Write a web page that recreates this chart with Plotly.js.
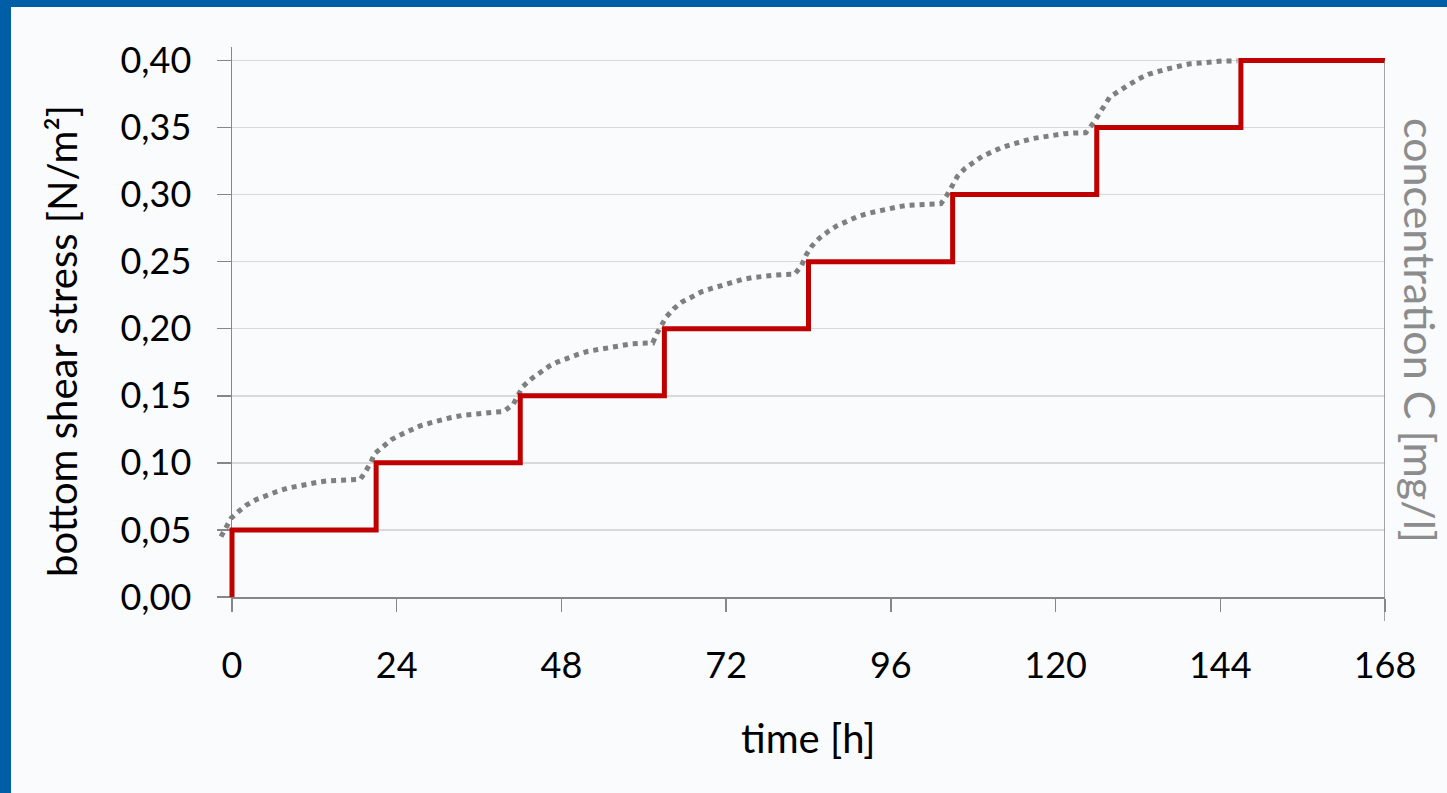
<!DOCTYPE html>
<html>
<head>
<meta charset="utf-8">
<script src="https://cdn.plot.ly/plotly-3.0.1.min.js"></script>
<style>
  html, body { margin: 0; padding: 0; background: #005ea6; width: 1447px; height: 793px; overflow: hidden; }
  #chart { position: absolute; left: 11px; top: 7px; width: 1436px; height: 786px; }
</style>
</head>
<body>
<div id="chart"></div>
<script>
// bottom shear stress steps (time [h], stress [N/m²])
const stepTimes = [0, 0, 21, 42, 63, 84, 105, 126, 147, 168];
const stressValues = [0, 0.05, 0.10, 0.15, 0.20, 0.25, 0.30, 0.35, 0.40, 0.40];

// concentration curve (time [h], value on the same visual scale)
const concTimes = [
  -1.6, -1.0, -0.15, 0.9, 2.1, 3.6, 5.0, 6.5, 8.0, 9.4, 10.9, 12.6, 14.0, 15.7, 17.2, 18.7,
  19.5, 20.2, 20.8, 22.0, 23.3, 24.6, 26.0, 27.4, 28.9, 30.3, 31.8, 33.5, 34.9, 36.6, 38.1, 39.6,
  41.0, 41.7, 42.4, 43.7, 44.9, 46.2, 47.5, 49.0, 50.5, 51.9, 53.5, 55.1, 56.6, 58.2, 59.8, 61.3,
  61.9, 62.6, 63.3, 64.4, 65.6, 67.0, 68.4, 69.9, 71.4, 72.8, 74.3, 75.8, 77.4, 78.9, 80.5, 82.0,
  83.0, 83.7, 84.5, 85.6, 86.9, 88.1, 89.6, 91.0, 92.5, 94.0, 95.5, 96.9, 98.5, 100.1, 101.7, 103.3,
  104.2, 104.9, 105.7, 106.8, 108.0, 109.3, 110.7, 112.1, 113.6, 115.2, 116.6, 118.1, 119.7, 121.3, 122.8, 124.4,
  125.5, 126.2, 127.0, 127.9, 129.4, 130.8, 132.0, 133.5, 135.0, 136.4, 138.1, 139.6, 141.0, 142.5, 144.2, 146.5
];
const concValues = [
  0.045, 0.051, 0.0586, 0.0636, 0.0685, 0.0728, 0.076, 0.0785, 0.081, 0.0827, 0.0842, 0.0857, 0.0866, 0.0871, 0.0874, 0.0877,
  0.094, 0.100, 0.107, 0.112, 0.1175, 0.121, 0.1244, 0.1275, 0.1298, 0.132, 0.1336, 0.1353, 0.1363, 0.1373, 0.1378, 0.1383,
  0.1438, 0.1505, 0.157, 0.163, 0.1675, 0.172, 0.1753, 0.1785, 0.181, 0.1832, 0.1847, 0.1865, 0.1877, 0.1887, 0.1892, 0.1894,
  0.1964, 0.2026, 0.209, 0.215, 0.220, 0.2237, 0.2275, 0.230, 0.2324, 0.2349, 0.2366, 0.2381, 0.2393, 0.2398, 0.2404, 0.2406,
  0.2473, 0.2553, 0.2617, 0.2676, 0.2726, 0.2766, 0.280, 0.2833, 0.2858, 0.2877, 0.2895, 0.2907, 0.292, 0.2927, 0.293, 0.2932,
  0.2997, 0.3062, 0.3136, 0.3195, 0.3243, 0.3285, 0.3317, 0.335, 0.3374, 0.3399, 0.3417, 0.3429, 0.3446, 0.3454, 0.3459, 0.3461,
  0.3533, 0.359, 0.366, 0.3727, 0.3777, 0.3826, 0.386, 0.3896, 0.392, 0.3938, 0.3958, 0.3975, 0.398, 0.399, 0.3995, 0.3997
];

const xTicks = [0, 24, 48, 72, 96, 120, 144, 168];
const yTicks = [0, 0.05, 0.10, 0.15, 0.20, 0.25, 0.30, 0.35, 0.40];
const xTitle = 'time [h]';
const yTitle = 'bottom shear stress [N/m²]';
const y2Title = 'concentration C [mg/l]';

// geometry helpers (pixels)
const W = 1436, H = 786;
const mL = 206, mR = 57, mT = 40, mB = 196;
const plotW = W - mL - mR;           // 1173
const plotH = H - mT - mB;           // 550
const padL = 15, padR = 5;           // extra room for curves outside the axis frame
const xMin = 0, xMax = 168, yMax = 0.41;
const pxPerH = (plotW - padL - padR) / (xMax - xMin);

const font = 'Lato, "Open Sans", sans-serif';
const axisGrey = '#878787';

const traces = [
  {
    x: concTimes, y: concValues, xaxis: 'x2', yaxis: 'y2',
    type: 'scatter', mode: 'lines',
    line: { color: '#7f7f7f', width: 5, dash: '5px,5px' },
    hoverinfo: 'skip', showlegend: false
  },
  {
    x: stepTimes, y: stressValues, xaxis: 'x2', yaxis: 'y2',
    type: 'scatter', mode: 'lines',
    line: { color: '#c00000', width: 5, shape: 'hv' },
    hoverinfo: 'skip', showlegend: false
  }
];

const layout = {
  width: W, height: H,
  margin: { l: mL, r: mR, t: mT, b: mB, pad: 0 },
  paper_bgcolor: '#f9fbfd',
  plot_bgcolor: 'rgba(0,0,0,0)',
  separators: ',.',
  showlegend: false,
  font: { family: font, size: 36, color: '#000000' },
  xaxis: {
    domain: [padL / plotW, 1 - padR / plotW],
    range: [xMin, xMax],
    tickvals: xTicks,
    ticktext: xTicks.map(String),
    ticks: 'outside', ticklen: 13, tickwidth: 1.5, tickcolor: axisGrey,
    showline: true, linecolor: axisGrey, linewidth: 1.5,
    showgrid: false, zeroline: false,
    ticklabelstandoff: 23,
    tickfont: { family: font, size: 36, color: '#000' },
    anchor: 'y', fixedrange: true
  },
  yaxis: {
    domain: [0, 1],
    range: [0, yMax],
    tickvals: yTicks,
    tickformat: '.2f',
    ticks: 'outside', ticklen: 14, tickwidth: 1.5, tickcolor: axisGrey,
    showline: true, linecolor: axisGrey, linewidth: 1.5,
    showgrid: true, gridcolor: '#d9d9d9', gridwidth: 1.5,
    zeroline: false,
    ticklabelstandoff: 18,
    tickfont: { family: font, size: 36, color: '#000' },
    anchor: 'x', fixedrange: true
  },
  xaxis2: {
    domain: [0, 1],
    range: [xMin - padL / pxPerH, xMax + padR / pxPerH],
    visible: false, anchor: 'y2', fixedrange: true
  },
  yaxis2: {
    domain: [0, 1],
    range: [0, yMax],
    visible: false, anchor: 'x2', fixedrange: true
  },
  shapes: [
    { type: 'line', xref: 'x', yref: 'paper', x0: xMax, x1: xMax,
      y0: -24 / plotH, y1: 0.40 / yMax,
      line: { color: axisGrey, width: 1.5 } }
  ],
  annotations: [
    { text: yTitle, xref: 'paper', yref: 'paper',
      x: (51 - mL) / plotW, y: 1 - (334 - mT) / plotH,
      xanchor: 'center', yanchor: 'middle', textangle: -90, showarrow: false,
      font: { family: font, size: 40, color: '#000' } },
    { text: y2Title, xref: 'paper', yref: 'paper',
      x: (1410 - mL) / plotW, y: 1 - (323 - mT) / plotH,
      xanchor: 'center', yanchor: 'middle', textangle: 90, showarrow: false,
      font: { family: font, size: 43, color: '#8c8c8c' } },
    { text: xTitle, xref: 'paper', yref: 'paper',
      x: (797 - mL) / plotW, y: 1 - (731 - mT) / plotH,
      xanchor: 'center', yanchor: 'middle', showarrow: false,
      font: { family: font, size: 40, color: '#000' } }
  ]
};

Plotly.newPlot('chart', traces, layout, { displayModeBar: false, staticPlot: true });
</script>
</body>
</html>
